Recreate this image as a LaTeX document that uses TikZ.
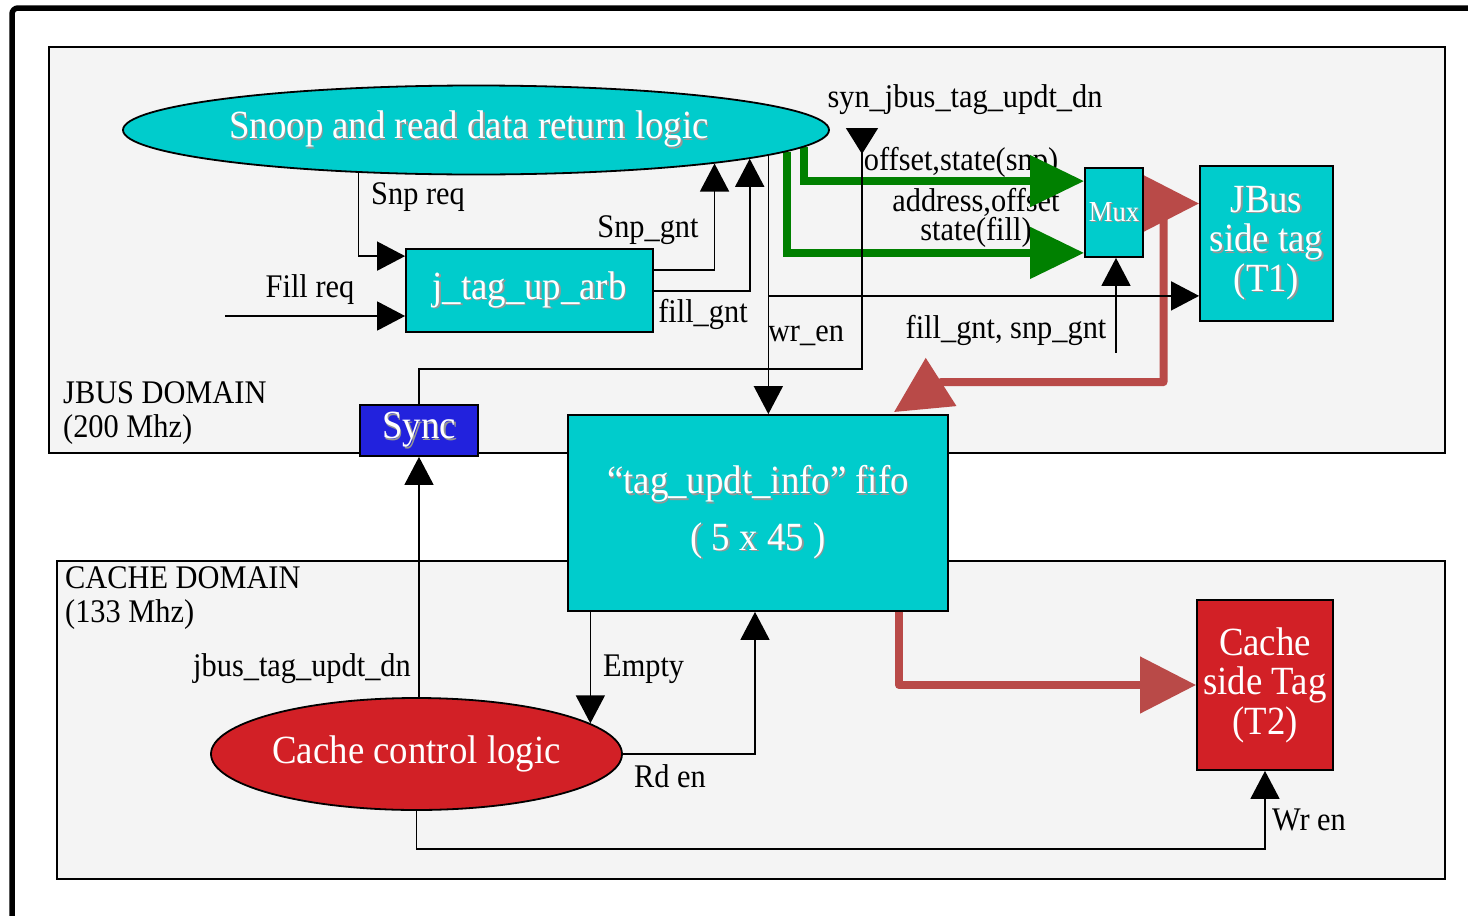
\documentclass[tikz,border=0pt]{standalone}
\usepackage{fontspec}
\setmainfont{Liberation Serif}[FakeStretch=0.92]
\usetikzlibrary{shapes.geometric,arrows.meta,calc}

\definecolor{tagcyan}{RGB}{0,204,204}
\definecolor{syncblue}{RGB}{34,34,221}
\definecolor{tagred}{RGB}{210,32,38}
\definecolor{busred}{RGB}{185,74,72}
\definecolor{busgreen}{RGB}{0,128,0}
\definecolor{domgray}{RGB}{244,244,244}
\definecolor{shdgray}{RGB}{150,150,150}

\newcommand{\shd}[1]{\leavevmode\rlap{\kern1.6pt\raisebox{-1.6pt}{\color{shdgray}#1}}#1}
\newcommand{\bigfont}{\fontsize{40}{39.5}\selectfont}
\newcommand{\lblfont}{\fontsize{33}{34}\selectfont}

\pgfdeclarelayer{domains}
\pgfdeclarelayer{wires}
\pgfsetlayers{domains,wires,main}

\begin{document}
\begin{tikzpicture}[x=1pt,y=-1pt,
    every node/.style={inner sep=0pt},
    dom/.style={draw=black,line width=1.5pt,fill=domgray},
    blk/.style={draw=black,line width=1.8pt,fill=tagcyan,text=white,align=center,font=\bigfont},
    oval/.style={blk,ellipse},
    lbl/.style={font=\lblfont},
    sig/.style={draw=black,line width=1.6pt,-{Triangle[length=28pt,width=29pt]}},
    gbus/.style={draw=busgreen,line width=8pt,-{Triangle[length=54pt,width=50pt]}},
    rbus/.style={draw=busred,line width=8pt,line join=round,-{Triangle[length=56pt,width=55pt]}}]
    \useasboundingbox (0,0) rectangle (1468,916);
    \draw[line width=5.5pt,rounded corners=6pt] (12,940) -- (12,8) -- (1490,8);

    \begin{pgfonlayer}{domains}
        \node[dom,minimum width=1396pt,minimum height=406pt] (jbusdom) at (747,250) {};
        \node[dom,minimum width=1388pt,minimum height=318pt] (cachedom) at (751,720) {};
    \end{pgfonlayer}

    \node[lbl,align=left,anchor=west] (jbuslbl) at (63,413) {JBUS DOMAIN\\(200 Mhz)};
    \node[lbl,align=left,anchor=west] (cachelbl) at (65,598) {CACHE DOMAIN\\(133 Mhz)};

    \node[oval,minimum width=706pt,minimum height=89pt] (snoop) at (476,130) {\shd{Snoop and read data return logic}\hspace*{14pt}};
    \node[blk,minimum width=247pt,minimum height=83pt] (jarb) at (529.5,290.5) {\shd{j\_tag\_up\_arb}};
    \node[blk,minimum width=58pt,minimum height=89pt,font=\fontsize{29}{30}\selectfont] (mux) at (1114,212.5) {\shd{Mux}};
    \node[blk,minimum width=133pt,minimum height=155pt] (jtag) at (1266.5,243.5) {\shd{JBus}\\\shd{side tag}\\\shd{(T1)}};
    \node[blk,fill=syncblue,minimum width=118pt,minimum height=51pt] (sync) at (419,430.5) {\shd{Sync}};
    \node[blk,minimum width=380pt,minimum height=196pt] (fifo) at (758,513) {\shd{“tag\_updt\_info” fifo}\\[17pt]\shd{( 5 x 45 )}};
    \node[blk,fill=tagred,minimum width=136pt,minimum height=170pt] (ctag) at (1265,685) {Cache\\side Tag\\(T2)};
    \node[oval,fill=tagred,minimum width=411pt,minimum height=112pt] (cache) at (416.5,754) {Cache control logic};

    \begin{pgfonlayer}{wires}
        \node[lbl] (snpreqlbl) at (418,197) {Snp req};
        \node[lbl] (fillreqlbl) at (310,290) {Fill req};
        \node[lbl] (snpgntlbl) at (648,230) {Snp\_gnt};
        \node[lbl] (fillgntlbl) at (703,314) {fill\_gnt};
        \node[lbl] (wrenlbl) at (806,336) {wr\_en};
        \node[lbl] (synlbl) at (965,100) {syn\_jbus\_tag\_updt\_dn};
        \node[lbl] (snpinfolbl) at (961,162) {offset,state(snp)};
        \node[lbl,align=center] (fillinfolbl) at (976,218) {address,offset\\[-5pt]state(fill)};
        \node[lbl] (sellbl) at (1006,330) {fill\_gnt, snp\_gnt};
        \node[lbl] (jbusdnlbl) at (302,669) {jbus\_tag\_updt\_dn};
        \node[lbl,anchor=west] (emptylbl) at (603,669) {Empty};
        \node[lbl] (rdenlbl) at (670,776) {Rd en};
        \node[lbl] (cwrenlbl) at (1309,820) {Wr en};

        \coordinate (fillsrc) at (225,316);
        \coordinate (syntop) at (862,128);
        \coordinate (muxout) at ($(mux.east)+(0,-9)$);
        \coordinate (busfork) at (1163.5,212);
        \coordinate (tagin) at ($(jtag.south west)+(0,-26)$);

        \draw[gbus] (snoop.-3.25) |- ($(mux.north west)+(0,14)$);
        \draw[gbus] (snoop.-4.4) |- ($(mux.south west)+(0,-5)$);
        \draw[rbus] (muxout) -- (muxout -| jtag.west);
        \draw[rbus] (busfork) |- ($(fifo.north east)+(-8,-32)$) -- ($(fifo.north east)+(-55,-2)$);
        \draw[rbus] ($(fifo.south east)+(-50,0)$) |- (ctag.west);

        \draw[sig] (snoop.200) |- ($(jarb.north west)+(0,8)$);
        \draw[sig] (fillsrc) -- (fillsrc -| jarb.west);
        \draw[sig] ($(jarb.north east)+(0,22)$) -| (snoop.-8.75);
        \draw[sig] ($(jarb.north east)+(0,43)$) -| (snoop.-6.9);
        \draw[sig] (snoop.-5.5) -- (snoop.-5.5 |- fifo.north);
        \draw[sig] (snoop.-5.5 |- tagin) -- (tagin);
        \draw[sig] ($(mux.south)+(2,95)$) -- ($(mux.south)+(2,0)$);
        \draw[sig,{Triangle[reversed,length=26pt,width=32pt]}-] (syntop) |- ($(sync.north)+(0,-35)$) -- (sync.north);
        \draw[sig] (cache.north -| sync.south) -- (sync.south);
        \draw[sig] (cache.10 |- fifo.south) -- (cache.10);
        \draw[sig] (cache.east) -| ($(fifo.south)+(-3,0)$);
        \draw[sig] (cache.south) |- ($(ctag.south)+(0,78)$) -- (ctag.south);
    \end{pgfonlayer}
\end{tikzpicture}
\end{document}
